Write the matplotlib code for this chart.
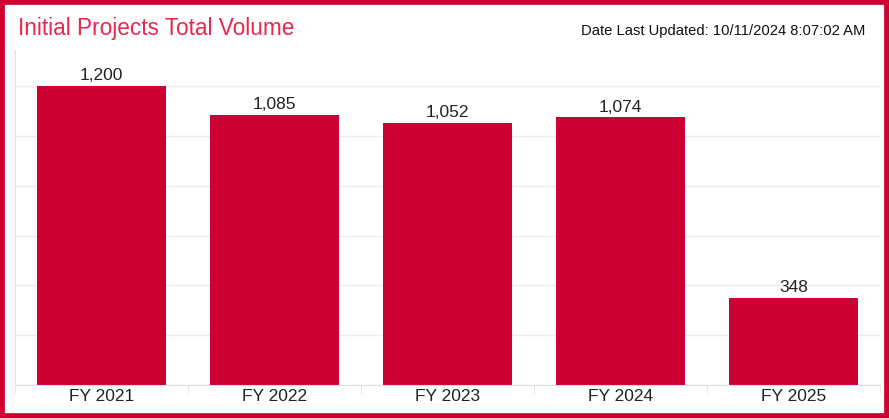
import matplotlib.pyplot as plt
from matplotlib.patches import Rectangle

categories = ["FY 2021", "FY 2022", "FY 2023", "FY 2024", "FY 2025"]
volumes = [1200, 1085, 1052, 1074, 348]
title = "Initial Projects Total Volume"
updated = "Date Last Updated: 10/11/2024 8:07:02 AM"

plt.rcParams['font.family'] = ['Liberation Sans', 'DejaVu Sans']

fig = plt.figure(figsize=(8.89, 4.18), dpi=100)
ax = fig.add_axes([15/889, 1 - 385/418, 865/889, 335/418])

x = range(len(categories))
bars = ax.bar(x, volumes, width=0.75, color="#cc0033", zorder=2)
for b, v in zip(bars, volumes):
    ax.text(b.get_x() + b.get_width()/2, v + 12, f"{v:,}", ha="center", va="bottom",
            fontsize=12.5, color="#222222")

ax.set_xlim(-0.49, 4.5)
ax.set_ylim(0, 1345)
ax.set_yticks(range(0, 1201, 200))
ax.set_yticklabels([])
ax.tick_params(axis="y", length=0)
ax.yaxis.grid(True, color="#ececec", linewidth=1, zorder=0)
ax.set_xticks(list(x))
ax.set_xticklabels(categories, fontsize=12.5, color="#222222")
ax.set_xticks([i + 0.5 for i in range(-1, len(categories))], minor=True)
ax.tick_params(axis="x", which="major", length=0, pad=3)
ax.tick_params(axis="x", which="minor", length=6, color="#e0e0e0")
for s in ["top", "right"]:
    ax.spines[s].set_visible(False)
ax.spines["left"].set_color("#e0e0e0")
ax.spines["bottom"].set_color("#e0e0e0")

fig.text(18/889, 1 - 28/418, title, fontsize=16.3, color="#e8284f", va="center", ha="left")
fig.text(865/889, 1 - 31/418, updated, fontsize=10.6, color="#111111", va="center", ha="right")

# red frame around the whole picture
fig.patches.append(Rectangle((0, 0), 1, 1, transform=fig.transFigure, fill=False,
                             edgecolor="#cc0033", linewidth=7))

fig.savefig("out.png", dpi=100)
